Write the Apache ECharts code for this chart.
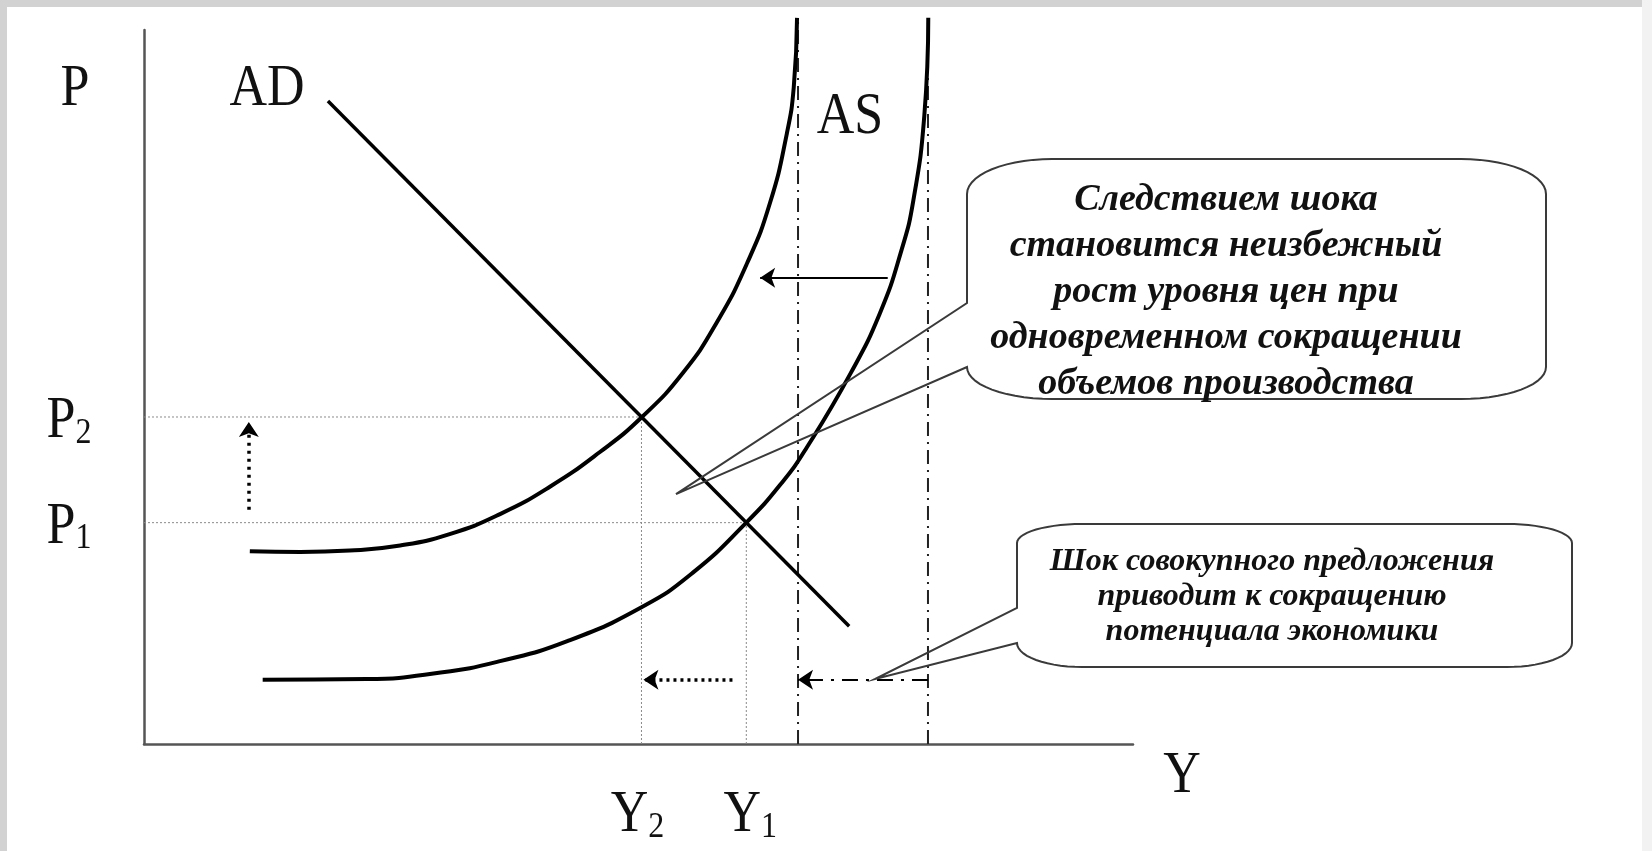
<!DOCTYPE html>
<html><head><meta charset="utf-8">
<script src="https://cdn.jsdelivr.net/npm/echarts@6/dist/echarts.min.js"></script>
<style>html,body{margin:0;padding:0;background:#fff;overflow:hidden}#c{width:1652px;height:851px}</style>
</head><body><div id="c"></div>
<script>
// ---- data (x = output Y, y = price level P) ----
const priceLevels = [31.0, 45.8];          // P1, P2
const priceLabels = ['1', '2'];
const outputLevels = [60.9, 50.3];         // Y1, Y2
const outputLabels = ['1', '2'];
const potentialOutput = [79.27, 66.13];    // potential before / after the shock
const potentialTop = 101.7;
const adCurve = [[18.6, 90.05], [71.3, 16.5]];
const asOld = [[12.0, 9.0], [22.5, 9.1], [30.0, 10.0], [36.0, 11.6], [42.8, 14.4], [50.35, 19.2], [55.5, 24.0], [60.9, 31.0], [64.5, 36.6], [67.0, 41.5], [71.4, 51.8], [74.4, 60.3], [76.6, 69.2], [77.8, 76.2], [78.9, 88.0], [79.3, 101.7]];
const asNew = [[10.7, 27.0], [15.8, 26.9], [20.8, 27.1], [25.9, 27.8], [30.9, 29.4], [36.0, 32.2], [41.0, 36.0], [46.1, 40.9], [50.35, 45.8], [54.5, 52.0], [57.9, 59.0], [61.0, 67.4], [63.3, 75.8], [65.0, 85.5], [65.7, 92.0], [66.03, 101.7]];
const arrowPrice = [[10.6, 32.8], [10.6, 45.1]];
const arrowOutput = [[59.5, 9.0], [50.5, 9.0]];
const arrowPotential = [[79.27, 9.0], [66.13, 9.0]];
const arrowShift = [[75.2, 65.3], [62.3, 65.3]];
const calloutTips = [[53.79, 35.0], [73.91, 9.1]];
const calloutText1 = ['Следствием шока', 'становится неизбежный', 'рост уровня цен при', 'одновременном сокращении', 'объемов производства'];
const calloutText2 = ['Шок совокупного предложения', 'приводит к сокращению', 'потенциала экономики'];

const SERIF = '"Liberation Serif","Times New Roman",serif';

const chart = echarts.init(document.getElementById('c'), null, {renderer: 'canvas'});

function line(data, style, z) {
  return {type: 'line', data: data, symbol: 'none', silent: true, clip: false, animation: false,
          smooth: false, lineStyle: style, z: z || 2};
}
function curve(data, style) {
  const s = line(data, style, 4);
  s.smooth = 0.5;
  return s;
}
function arrow(coords, style, size) {
  return {type: 'lines', coordinateSystem: 'cartesian2d', silent: true, animation: false,
          symbol: ['none', 'arrow'], symbolSize: size || 14,
          data: [{coords: coords}],
          lineStyle: Object.assign({opacity: 1, curveness: 0}, style),
          itemStyle: {color: style.color}, z: 3};
}

const guide = {color: '#8a8a8a', width: 1, type: [2, 2]};
const series = [];
series.push(line([[0, priceLevels[1]], [outputLevels[1], priceLevels[1]]], guide, 1));
series.push(line([[0, priceLevels[0]], [outputLevels[0], priceLevels[0]]], guide, 1));
series.push(line([[outputLevels[1], 0], [outputLevels[1], priceLevels[1]]], guide, 1));
series.push(line([[outputLevels[0], 0], [outputLevels[0], priceLevels[0]]], guide, 1));
potentialOutput.forEach(function (x) {
  series.push(line([[x, 0], [x, potentialTop]], {color: '#222', width: 2, type: [14, 6, 2, 6]}, 1));
});
series.push(line(adCurve, {color: '#000', width: 3.5}, 4));
series.push(curve(asOld, {color: '#000', width: 4}));
series.push(curve(asNew, {color: '#000', width: 4}));
series.push(arrow(arrowPrice, {color: '#000', width: 3.5, type: [3, 5]}, 15));
series.push(arrow(arrowOutput, {color: '#000', width: 3.5, type: [3, 4]}, 15));
series.push(arrow(arrowPotential, {color: '#000', width: 2, type: [16, 8, 3, 8]}, 15));
series.push(arrow(arrowShift, {color: '#000', width: 2}, 15));

const axisCommon = {type: 'value', min: 0, max: 100,
  axisLine: {show: true, lineStyle: {color: '#555', width: 2.5}},
  axisTick: {show: false}, axisLabel: {show: false}, splitLine: {show: false}};

chart.setOption({
  backgroundColor: '#ffffff',
  animation: false,
  grid: {left: 144, top: 30, right: 519, bottom: 107, containLabel: false, outerBoundsMode: 'none'},
  xAxis: Object.assign({}, axisCommon),
  yAxis: Object.assign({}, axisCommon),
  series: series
});

// ---- annotations ----
function px(pt) { return chart.convertToPixel({gridIndex: 0}, pt); }
function arc(pts, cx, cy, rx, ry, a0, a1) {
  const n = 14;
  for (let i = 0; i <= n; i++) {
    const a = a0 + (a1 - a0) * i / n;
    pts.push([cx + rx * Math.cos(a), cy + ry * Math.sin(a)]);
  }
}
function calloutShape(l, t, r, b, rx, ryT, ryB, ty1, tip) {
  const P = Math.PI, pts = [];
  arc(pts, r - rx, t + ryT, rx, ryT, -P / 2, 0);
  arc(pts, r - rx, b - ryB, rx, ryB, 0, P / 2);
  arc(pts, l + rx, b - ryB, rx, ryB, P / 2, P);
  pts.push([tip[0], tip[1]]);
  pts.push([l, ty1]);
  arc(pts, l + rx, t + ryT, rx, ryT, P, 1.5 * P);
  return pts;
}
function label(main, sub, x, y, size) {
  const st = {x: 0, y: 0, fill: '#111', font: size + 'px ' + SERIF,
    align: 'center', verticalAlign: 'middle', textAlign: 'center', textVerticalAlign: 'middle'};
  if (sub) {
    st.text = '{a|' + main + '}{b|' + sub + '}';
    const s2 = Math.round(size * 0.62);
    st.rich = {a: {fontFamily: SERIF, fontSize: size, lineHeight: size, verticalAlign: 'bottom', fill: '#111'},
               b: {fontFamily: SERIF, fontSize: s2, lineHeight: s2, verticalAlign: 'bottom', fill: '#111'}};
  } else {
    st.text = main;
  }
  return {type: 'text', x: x, y: y, scaleY: 1.13, z: 10, silent: true, style: st};
}
function calloutLabel(lines, x, y, size, lh) {
  return {type: 'text', x: x, y: y, z: 10, silent: true,
    style: {x: 0, y: 0, text: lines.join('\n'), font: 'italic bold ' + size + 'px ' + SERIF,
      lineHeight: lh, fill: '#111', align: 'center', verticalAlign: 'middle', textAlign: 'center', textVerticalAlign: 'middle'}};
}

const tip1 = px(calloutTips[0]);
const tip2 = px(calloutTips[1]);
const g = [];
g.push({type: 'rect', shape: {x: 0, y: 0, width: 1652, height: 7}, style: {fill: '#d2d2d2'}, z: 0, silent: true});
g.push({type: 'rect', shape: {x: 0, y: 0, width: 7, height: 851}, style: {fill: '#d2d2d2'}, z: 0, silent: true});
g.push({type: 'rect', shape: {x: 1642, y: 0, width: 10, height: 851}, style: {fill: '#f2f2f2'}, z: 0, silent: true});
g.push({type: 'polygon', z: 5, silent: true, shape: {points: calloutShape(967, 159, 1546, 399, 85, 35, 32, 303, tip1)},
  style: {fill: 'none', stroke: '#3a3a3a', lineWidth: 2}});
g.push({type: 'polygon', z: 5, silent: true, shape: {points: calloutShape(1017, 524, 1572, 667, 65, 19, 24, 608, tip2)},
  style: {fill: 'none', stroke: '#3a3a3a', lineWidth: 2}});
g.push(calloutLabel(calloutText1, 1226, 292, 38, 46));
g.push(calloutLabel(calloutText2, 1272, 597, 32, 35));

g.push(label('P', null, 75, 90, 52));
g.push(label('AD', null, 267, 90, 52));
g.push(label('AS', null, 850, 118, 52));
g.push(label('Y', null, 1182, 777, 52));
priceLevels.forEach(function (v, i) {
  const y = chart.convertToPixel({yAxisIndex: 0}, v);
  g.push(label('P', priceLabels[i], 69, y + 5, 52));
});
outputLevels.forEach(function (v, i) {
  const x = chart.convertToPixel({xAxisIndex: 0}, v);
  g.push(label('Y', outputLabels[i], x + (i === 0 ? 4 : -4), 816, 52));
});
chart.setOption({graphic: {elements: g}});
</script>
</body></html>
